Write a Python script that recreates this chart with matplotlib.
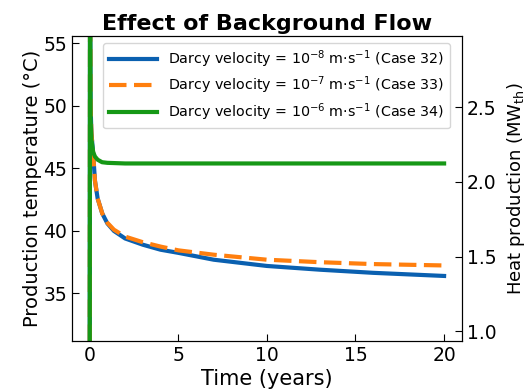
import numpy as np
import matplotlib
matplotlib.use('Agg')
import matplotlib.pyplot as plt

# production temperature over time for three background flow cases
t_32 = [0, 0.02, 0.05, 0.1, 0.19, 0.3, 0.45, 0.71, 1.0, 1.37, 2, 3, 4, 5, 7, 10, 13, 16, 20]
T_32 = [20, 60, 50, 47.8, 46.3, 44.0, 42.6, 41.4, 40.6, 40.0, 39.4, 38.9, 38.5, 38.25, 37.7, 37.2, 36.9, 36.65, 36.4]

t_33 = [0, 0.02, 0.05, 0.1, 0.19, 0.3, 0.45, 0.71, 1.0, 1.37, 2, 3, 4, 5, 7, 10, 13, 16, 20]
T_33 = [20, 60, 50, 47.8, 46.3, 44.0, 42.6, 41.4, 40.65, 40.1, 39.55, 39.1, 38.75, 38.45, 38.1, 37.7, 37.5, 37.35, 37.24]

t_34 = [0, 0.02, 0.05, 0.1, 0.2, 0.3, 0.45, 0.7, 1.0, 2, 5, 10, 15, 20]
T_34 = [20, 60, 49, 47.3, 46.3, 45.95, 45.7, 45.5, 45.45, 45.4, 45.4, 45.4, 45.4, 45.4]

labels = ['Darcy velocity = $10^{-8}$ m·s$^{-1}$ (Case 32)',
          'Darcy velocity = $10^{-7}$ m·s$^{-1}$ (Case 33)',
          'Darcy velocity = $10^{-6}$ m·s$^{-1}$ (Case 34)']

# heat production = m_dot * cp * (T - T_inj)
m_dot = 20.0      # kg/s
cp = 4180.0       # J/kg/K
T_inj = 20.0      # degC
T_lim = (31.2, 55.6)

fig = plt.figure(figsize=(5.29, 3.91), dpi=100)
ax = fig.add_axes([0.136, 0.128, 0.737, 0.78])

ax.plot(t_32, T_32, color='#0a60b0', lw=3, label=labels[0])
ax.plot(t_33, T_33, color='#ff7f0e', lw=3, ls='--', dashes=(4.2, 1.8), label=labels[1])
ax.plot(t_34, T_34, color='#169816', lw=3, label=labels[2])

ax.set_xlim(-1, 21)
ax.set_ylim(*T_lim)
ax.set_xticks([0, 5, 10, 15, 20])
ax.set_yticks([35, 40, 45, 50, 55])
ax.tick_params(direction='in', labelsize=13.5, length=5)
ax.set_xlabel('Time (years)', fontsize=15, labelpad=3)
ax.set_ylabel('Production temperature (°C)', fontsize=14, labelpad=1)
ax.set_title('Effect of Background Flow', fontsize=16, fontweight='bold', pad=4)

ax2 = ax.twinx()
ax2.set_ylim(m_dot * cp * (T_lim[0] - T_inj) / 1e6, m_dot * cp * (T_lim[1] - T_inj) / 1e6)
ax2.set_yticks([1.0, 1.5, 2.0, 2.5])
ax2.tick_params(direction='in', labelsize=13.5, length=5)
ax2.set_ylabel('Heat production (MW$_{\\mathrm{th}}$)', fontsize=13, labelpad=6)

ax.legend(loc='upper right', bbox_to_anchor=(0.969, 0.977), borderaxespad=0,
          fontsize=10.3, handlelength=3.35, labelspacing=0.32)

fig.savefig('out.png', dpi=100)
